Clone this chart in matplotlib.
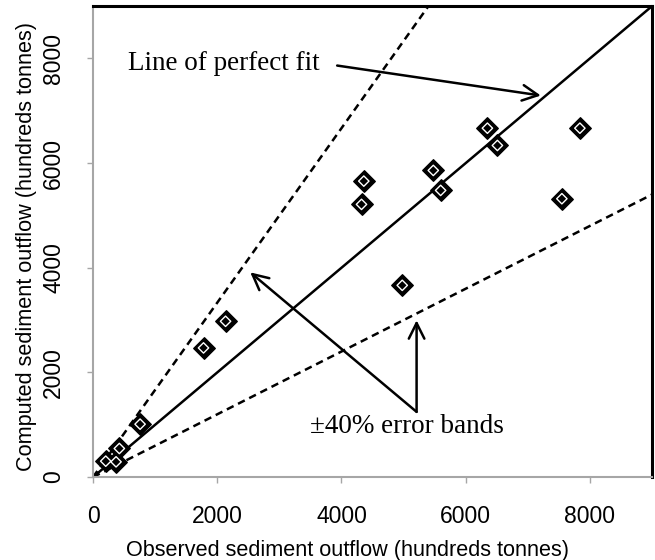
"""
Observed vs computed sediment outflow with perfect-fit line and +/-40% error bands
"""

import numpy as np
import matplotlib
matplotlib.use("Agg")
import matplotlib.pyplot as plt

# data (hundreds tonnes)
observed = [6350, 6511, 7839, 5479, 5597, 4360, 4323, 7549, 4979,
            2134, 1779, 758, 424, 205, 371]
computed = [6668, 6338, 6668, 5861, 5479, 5657, 5212, 5320, 3665,
            2978, 2469, 1012, 547, 305, 292]

axis_max = 9000
tick_values = [0, 2000, 4000, 6000, 8000]
band_low = 0.6          # lower band slope
band_high = 1 / 0.6     # upper band slope

sans = "Liberation Sans"
serif = "Liberation Serif"
gray = "#a6a6a6"

fig = plt.figure(figsize=(6.55, 5.6), dpi=100)
ax = fig.add_axes([0.142, 0.148, 0.8534, 0.841])

# reference lines
xs = np.array([0, axis_max])
ax.plot(xs, xs, color="black", lw=1.8, zorder=2)
ax.plot(xs, xs * band_high, color="black", lw=1.8, ls=(0, (3, 2)), zorder=2)
ax.plot(xs, xs * band_low, color="black", lw=1.8, ls=(0, (3, 2)), zorder=2)

# points: black diamond with a white inner outline
ax.scatter(observed, computed, marker="D", s=120, color="black", zorder=3)
ax.scatter(observed, computed, marker="D", s=28, facecolor="none",
           edgecolor="white", linewidth=1.0, zorder=4)

ax.set_xlim(0, axis_max)
ax.set_ylim(0, axis_max)
ax.set_xticks(tick_values)
ax.set_yticks(tick_values)
ax.set_xticklabels([str(t) for t in tick_values], fontsize=16.5, family=sans)
ax.set_yticklabels([str(t) for t in tick_values], fontsize=16.5, family=sans,
                   rotation=90, va="center")
ax.tick_params(direction="out", length=4, width=1, color=gray, pad=16)

for side in ["left", "bottom"]:
    ax.spines[side].set_color(gray)
    ax.spines[side].set_linewidth(1.5)
for side in ["top", "right"]:
    ax.spines[side].set_color("black")
    ax.spines[side].set_linewidth(2.2)

ax.set_xlabel("Observed sediment outflow (hundreds tonnes)", fontsize=15.6,
              family=sans, labelpad=9)
ax.set_ylabel("Computed sediment outflow (hundreds tonnes)", fontsize=15.6,
              family=sans, labelpad=4)
# x label sits a little left of centre in the original
ax.xaxis.label.set_x(0.456)
ax.yaxis.label.set_y(0.49)

# annotations
arrow = dict(arrowstyle="->", color="black", lw=1.8,
             mutation_scale=28, shrinkA=0, shrinkB=0)
ax.text(560, 7903, "Line of perfect fit", fontsize=19.5, family=serif,
        va="center", ha="left")
ax.annotate("", xy=(7210, 7292), xytext=(3931, 7865), arrowprops=arrow)

ax.text(3500, 970, "\u00b140% error bands", fontsize=19.5, family=serif,
        va="center", ha="left")
ax.annotate("", xy=(2532, 3913), xytext=(5210, 1247), arrowprops=arrow)
ax.annotate("", xy=(5210, 2997), xytext=(5210, 1247), arrowprops=arrow)

plt.savefig("out.png", dpi=100)
plt.close()
